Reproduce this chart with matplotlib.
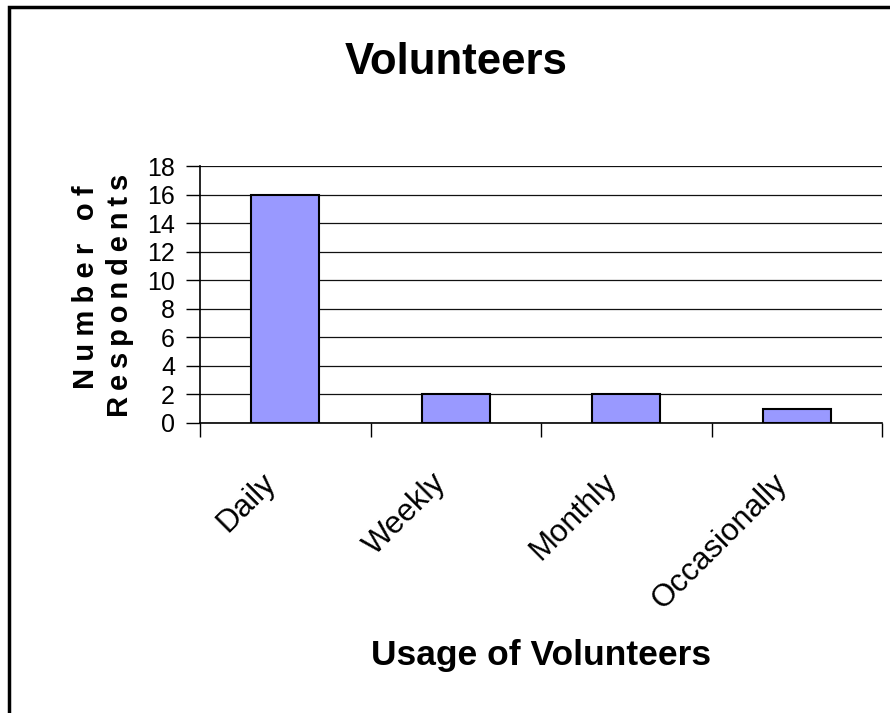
import numpy as np
import matplotlib.pyplot as plt
from matplotlib.patches import Rectangle
import matplotlib.transforms as mtransforms

plt.rcParams['font.family'] = ['Liberation Sans', 'DejaVu Sans']

categories = ["Daily", "Weekly", "Monthly", "Occasionally"]
respondents = [16, 2, 2, 1]
y_ticks = list(range(0, 20, 2))

title = "Volunteers"
x_label = "Usage of Volunteers"
y_label_lines = ["Number of", "Respondents"]

W, H = 890, 713
fig = plt.figure(figsize=(W / 100, H / 100), dpi=100)
fig.patch.set_facecolor('white')

# chart border (right and bottom edges lie outside the picture)
fig.patches.append(Rectangle((9 / W, -0.1), 1.2, 1.1 - 7 / H, transform=fig.transFigure,
                             fill=False, edgecolor='black', linewidth=2.5, zorder=10))

ax = fig.add_axes([200 / W, 1 - 423 / H, 682 / W, 257 / H])

x = np.arange(len(categories))
ax.bar(x, respondents, width=0.4, color='#9999ff', edgecolor='black', linewidth=1.5, zorder=3)

ax.set_xlim(-0.5, len(categories) - 0.5)
ax.set_ylim(0, 18)
ax.set_yticks(y_ticks)
ax.set_yticklabels([str(v) for v in y_ticks], fontsize=18)
ax.yaxis.grid(True, color='#111111', linewidth=0.9, zorder=0)
ax.set_axisbelow(True)

ax.set_xticks(np.arange(-0.5, len(categories), 1.0), minor=True)
ax.tick_params(axis='x', which='minor', length=10, width=1, color='black', direction='out')
ax.tick_params(axis='x', which='major', length=0)
ax.tick_params(axis='y', length=10, width=1, direction='out', pad=8)

ax.set_xticks(x)
ax.set_xticklabels(categories, fontsize=22.5, rotation=45, ha='right', va='top',
                   rotation_mode='anchor')
# push the rotated labels down/left like the original
offset = mtransforms.ScaledTranslation(-0.25, -0.40, fig.dpi_scale_trans)
for lab in ax.get_xticklabels():
    lab.set_transform(lab.get_transform() + offset)

for s in ['top', 'right']:
    ax.spines[s].set_visible(False)
for s in ['left', 'bottom']:
    ax.spines[s].set_color('black')
    ax.spines[s].set_linewidth(1.2)

fig.text(456 / W, 1 - 62 / H, title, fontsize=31.5, fontweight='bold', ha='center', va='center')
fig.text(541 / W, 1 - 656 / H, x_label, fontsize=25.5, fontweight='bold', ha='center', va='center')

# y label drawn with wide letter spacing like the original
fig.text(86 / W, 1 - 287 / H, "\u2005".join(y_label_lines[0]), fontsize=21, fontweight='bold',
         rotation=90, ha='center', va='center')
fig.text(120 / W, 1 - 295 / H, "\u2009".join(y_label_lines[1]), fontsize=21, fontweight='bold',
         rotation=90, ha='center', va='center')

fig.savefig("out.png", dpi=100, facecolor='white')
